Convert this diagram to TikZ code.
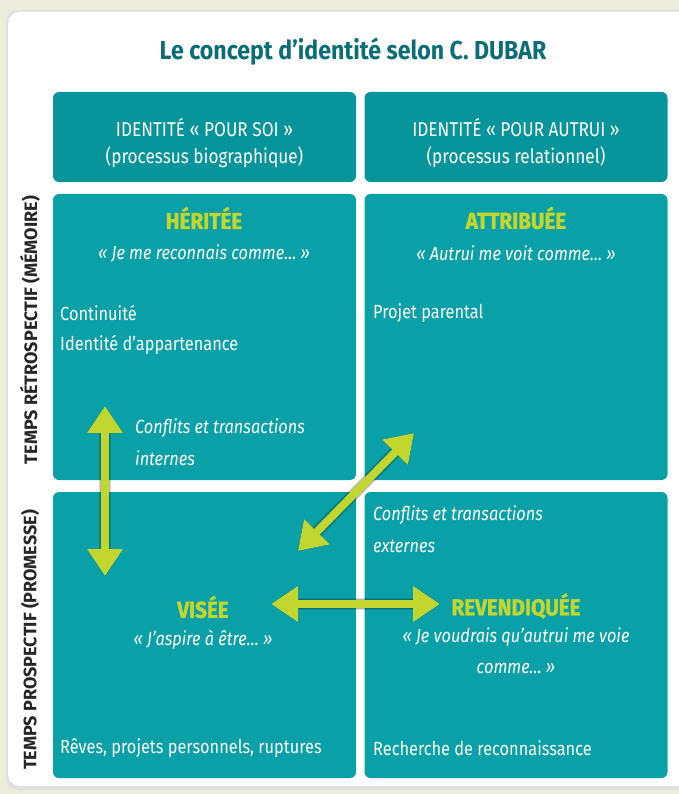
\documentclass[tikz,border=0pt]{standalone}
\usepackage{fontspec}
\setmainfont{Fira Sans}[FakeStretch=0.86]
\newfontfamily\sidefont{Fira Sans}
\newfontfamily\titlefont{Fira Sans}[FakeStretch=0.89]
\newfontfamily\heavyfont{Fira Sans}[FakeStretch=0.9, FakeBold=1.5]
\usetikzlibrary{positioning, arrows.meta}
\definecolor{pageback}{HTML}{ECECDF}
\definecolor{headteal}{HTML}{07949A}
\definecolor{cellteal}{HTML}{0AA0A7}
\definecolor{titleteal}{HTML}{0B6E77}
\definecolor{lime}{HTML}{C1D62F}
\definecolor{sideink}{HTML}{262626}
\tikzset{
  x=1pt, y=-1pt,
  headbox/.style={fill=headteal, rounded corners=6pt, minimum width=303pt,
    minimum height=90pt, inner sep=0pt},
  cellbox/.style={fill=cellteal, rounded corners=6pt, minimum width=303pt,
    minimum height=286pt, inner sep=0pt},
  headtext/.style={text=white, font=\fontsize{20}{23}\selectfont, inner sep=0pt},
  celltitle/.style={text=lime, font=\heavyfont\fontsize{23}{26}\selectfont\bfseries, inner sep=0pt},
  quote/.style={text=white, font=\fontsize{19}{22}\selectfont\itshape, inner sep=0pt},
  plain/.style={text=white, font=\fontsize{19}{22}\selectfont, anchor=west, inner sep=0pt},
  sidelabel/.style={text=sideink, rotate=90, font=\sidefont\fontsize{18}{20}\selectfont\bfseries, inner sep=0pt},
  bigarrow/.style={draw=lime, line width=8pt,
    {Triangle[width=34pt,length=27pt]}-{Triangle[width=34pt,length=27pt]}},
  arrowshadow/.style={draw=black, opacity=0.15, line width=#1,
    {Triangle[width=34pt,length=27pt]}-{Triangle[width=34pt,length=27pt]}}
}

\begin{document}
\begin{tikzpicture}
  \fill[pageback] (0,0) rectangle (679,794);
  \useasboundingbox (0,0) rectangle (679,794);
  \fill[black!12, rounded corners=12pt] (6,10) rectangle (700,790);
  \fill[white, rounded corners=12pt] (8,12) rectangle (700,786);

  \node[text=titleteal, font=\titlefont\fontsize{26}{30}\selectfont\bfseries] (title) at (353,52)
    {Le concept d’identité selon C. DUBAR};

  % column heads
  \node[headbox] (soi) at (204.5,137) {};
  \node[headbox] (autrui) at (516,137) {};
  \node[headtext] (soi1) at (204.5,128) {IDENTITÉ « POUR SOI »};
  \node[headtext] (soi2) at (204.5,157) {(processus biographique)};
  \node[headtext] (autrui1) at (516,128) {IDENTITÉ « POUR AUTRUI »};
  \node[headtext] (autrui2) at (516,157) {(processus relationnel)};

  % cells
  \node[cellbox] (heritee) at (204.5,337) {};
  \node[cellbox] (attribuee) at (516,337) {};
  \node[cellbox] (visee) at (204.5,635) {};
  \node[cellbox] (revendiquee) at (516,635) {};

  \node[sidelabel] (retro) at (30,330) {TEMPS RÉTROSPECTIF (MÉMOIRE)};
  \node[sidelabel] (prosp) at (30,640) {TEMPS PROSPECTIF (PROMESSE)};

  \node[celltitle] (t1) at (204,218) {HÉRITÉE};
  \node[quote] (q1) at (204,253) {« Je me reconnais comme… »};
  \node[plain] (c1) at (60,313) {Continuité};
  \node[plain] (c2) at (60,345) {Identité d’appartenance};
  \node[quote, anchor=west] (ci1) at (135,428) {Conflits et transactions};
  \node[quote, anchor=west] (ci2) at (135,458) {internes};

  \node[celltitle] (t2) at (516,218) {ATTRIBUÉE};
  \node[quote] (q2) at (516,253) {« Autrui me voit comme… »};
  \node[plain] (c3) at (373,313) {Projet parental};

  \node[quote, anchor=west] (ce1) at (373,515) {Conflits et transactions};
  \node[quote, anchor=west] (ce2) at (373,546) {externes};

  \node[celltitle] (t3) at (203,607) {VISÉE};
  \node[quote] (q3) at (203,640) {« J’aspire à être… »};
  \node[plain] (c4) at (60,748) {Rêves, projets personnels, ruptures};

  \node[celltitle] (t4) at (516,606) {REVENDIQUÉE};
  \node[quote] (q4) at (516,637) {« Je voudrais qu’autrui me voie};
  \node[quote] (q5) at (516,668) {comme… »};
  \node[plain] (c5) at (373,748) {Recherche de reconnaissance};

  % arrows
  \coordinate (vtop) at (105,406);
  \coordinate (vbot) at (105,576);
  \coordinate (dlow) at (298,551);
  \coordinate (dhigh) at (414,433);
  \coordinate (hleft) at (271,604);
  \coordinate (hright) at (440,604);

  \foreach \d/\w in {3/12pt, 5/10pt, 7/8pt}{
    \begin{scope}[shift={(\d,\d)}]
      \draw[arrowshadow=\w] (vtop) -- (vbot);
      \draw[arrowshadow=\w] (dlow) -- (dhigh);
      \draw[arrowshadow=\w] (hleft) -- (hright);
    \end{scope}
  }
  \draw[bigarrow] (vtop) -- (vbot);
  \draw[bigarrow] (dlow) -- (dhigh);
  \draw[bigarrow] (hleft) -- (hright);
\end{tikzpicture}
\end{document}
